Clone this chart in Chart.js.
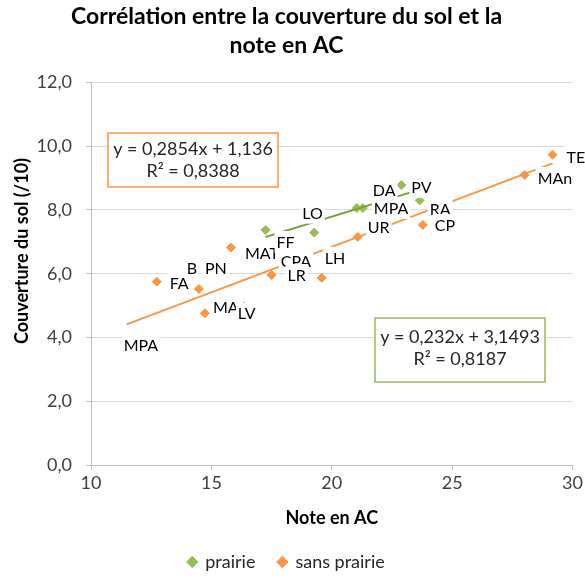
<!DOCTYPE html>
<html lang="fr">
<head>
<meta charset="utf-8">
<title>Couverture du sol et note en AC</title>
<script src="https://cdn.jsdelivr.net/npm/chart.js@4.4.1/dist/chart.umd.min.js"></script>
<style>
  html, body { margin: 0; padding: 0; background: #fff; }
  #wrap { position: relative; width: 585px; height: 578px; }
</style>
</head>
<body>
<div id="wrap"><canvas id="scatter"></canvas></div>
<script>
// parcelles avec prairie
const prairieNames = ['FF', 'LO', 'DA', 'MPA', 'PV', 'RA'];
const prairieNote = [17.25, 19.27, 21.04, 21.29, 22.89, 23.65];
const prairieCouv = [7.37, 7.29, 8.06, 8.06, 8.78, 8.30];

// parcelles sans prairie
const sansNames = ['MPA', 'FA', 'B', 'PN', 'MAA', 'LV', 'MAT', 'LR', 'CPA', 'LH', 'UR', 'CP', 'MAn', 'TE'];
const sansNote = [11.48, 12.73, 14.48, 14.19, 14.73, 15.56, 15.81, 17.50, 18.09, 19.58, 21.08, 23.78, 28.01, 29.17];
const sansCouv = [3.76, 5.75, 5.52, 6.18, 4.76, 4.76, 6.82, 5.96, 6.37, 5.87, 7.15, 7.53, 9.10, 9.73];

// tendances linéaires : pente, ordonnée à l'origine, R²
const prairieTrend = [0.232, 3.1493, 0.8187];
const sansTrend = [0.2854, 1.136, 0.8388];

const xTicks = [10, 15, 20, 25, 30];
const yTicks = [0, 2, 4, 6, 8, 10, 12];

// décalage des étiquettes en px par rapport au losange
const prairieLabelShift = [[11, 12], [-12, -20], [16, -18], [11, 0], [10, 2], [10, 8]];
const sansLabelShift = [[-3, 0], [13, 1], [-12, -21], [13, 0], [8, -6], [13, 0], [14, 5],
                        [16, 0], [-5, -1], [3, -20], [10, -10], [12, 0], [13, 3], [14, 2]];

const GREEN = '#9BBB59';
const GREEN_LINE = '#77A33C';
const ORANGE = '#F79646';
const FONT = 'Lato, "Open Sans", sans-serif';

const fr = v => String(v).replace('.', ',');
const toPoints = (xs, ys) => xs.map((x, i) => ({ x, y: ys[i] }));

function trendPoints(xs, trend) {
  const [a, b] = trend;
  const lo = Math.min(...xs), hi = Math.max(...xs);
  return [{ x: lo, y: a * lo + b }, { x: hi, y: a * hi + b }];
}

// étiquettes des parcelles, fond blanc, dessinées de gauche à droite
const pointLabels = {
  id: 'pointLabels',
  afterDatasetsDraw(chart) {
    const ctx = chart.ctx;
    const items = [];
    chart.data.datasets.forEach((ds, i) => {
      if (!ds.names) return;
      chart.getDatasetMeta(i).data.forEach((pt, j) => {
        const [dx, dy] = ds.labelShift[j];
        items.push({ text: ds.names[j], x: pt.x + dx, y: pt.y + dy });
      });
    });
    items.sort((a, b) => (a.x - b.x) || (a.y - b.y));
    ctx.save();
    ctx.font = '16px ' + FONT;
    ctx.textBaseline = 'middle';
    items.forEach(it => {
      const w = ctx.measureText(it.text).width;
      ctx.fillStyle = '#fff';
      ctx.fillRect(it.x - 2, it.y - 11, w + 4, 22);
      ctx.fillStyle = '#000';
      ctx.fillText(it.text, it.x, it.y + 1);
    });
    ctx.restore();
  }
};

// encadrés des équations de tendance
const trendBoxes = {
  id: 'trendBoxes',
  afterDatasetsDraw(chart, args, opts) {
    const ctx = chart.ctx;
    ctx.save();
    opts.boxes.forEach(b => {
      const [a, c, r2] = b.trend;
      const [cx, cy] = b.center;
      ctx.fillStyle = '#fff';
      ctx.fillRect(cx - b.w / 2, cy - b.h / 2, b.w, b.h);
      ctx.strokeStyle = b.color;
      ctx.lineWidth = 1.5;
      ctx.strokeRect(cx - b.w / 2, cy - b.h / 2, b.w, b.h);
      ctx.fillStyle = '#262626';
      ctx.font = '18px ' + FONT;
      ctx.textAlign = 'center';
      ctx.textBaseline = 'middle';
      ctx.fillText(`y = ${fr(a)}x + ${fr(c)}`, cx, cy + b.textShift - 11);
      ctx.fillText(`R² = ${fr(r2)}`, cx, cy + b.textShift + 11);
    });
    ctx.restore();
  }
};

// titre de l'axe vertical
const yTitle = {
  id: 'yTitle',
  afterDraw(chart, args, opts) {
    const ctx = chart.ctx;
    ctx.save();
    ctx.translate(opts.x, opts.y);
    ctx.rotate(-Math.PI / 2);
    ctx.font = 'bold 18px ' + FONT;
    ctx.fillStyle = '#000';
    ctx.textAlign = 'center';
    ctx.textBaseline = 'middle';
    ctx.fillText(opts.text, 0, 0);
    ctx.restore();
  }
};

new Chart(document.getElementById('scatter'), {
  type: 'scatter',
  data: {
    datasets: [
      {
        type: 'line',
        label: 'tendance sans prairie',
        data: trendPoints(sansNote, sansTrend),
        borderColor: ORANGE,
        borderWidth: 2,
        pointRadius: 0,
        fill: false,
        order: 0
      },
      {
        type: 'line',
        label: 'tendance prairie',
        data: trendPoints(prairieNote, prairieTrend),
        borderColor: GREEN_LINE,
        borderWidth: 2,
        pointRadius: 0,
        fill: false,
        order: 1
      },
      {
        label: 'prairie',
        data: toPoints(prairieNote, prairieCouv),
        names: prairieNames,
        labelShift: prairieLabelShift,
        pointStyle: 'rectRot',
        pointRadius: 4.5,
        backgroundColor: GREEN,
        borderColor: GREEN,
        borderWidth: 1,
        order: 2
      },
      {
        label: 'sans prairie',
        data: toPoints(sansNote, sansCouv),
        names: sansNames,
        labelShift: sansLabelShift,
        pointStyle: 'rectRot',
        pointRadius: 4.5,
        backgroundColor: ORANGE,
        borderColor: ORANGE,
        borderWidth: 1,
        order: 3
      }
    ]
  },
  options: {
    responsive: true,
    maintainAspectRatio: false,
    animation: false,
    layout: { padding: { left: 0, right: 12, top: 0, bottom: -3 } },
    plugins: {
      title: {
        display: true,
        text: ['Corrélation entre la couverture du sol et la', 'note en AC'],
        color: '#000',
        font: { family: FONT, size: 23, weight: 'bold', lineHeight: 1.27 },
        padding: { top: 2, bottom: 22 }
      },
      legend: {
        position: 'bottom',
        labels: {
          filter: item => !item.text.startsWith('tendance'),
          usePointStyle: true,
          pointStyle: 'rectRot',
          boxWidth: 8,
          boxHeight: 8,
          padding: 23,
          color: '#262626',
          font: { family: FONT, size: 18 }
        }
      },
      tooltip: { enabled: false },
      trendBoxes: {
        boxes: [
          { trend: sansTrend, color: ORANGE, center: [193, 160], w: 170, h: 54, textShift: 0 },
          { trend: prairieTrend, color: '#9BBB59', center: [460, 350], w: 170, h: 64, textShift: -1.5 }
        ]
      },
      yTitle: { text: 'Couverture du sol (/10)', x: 22, y: 251 }
    },
    scales: {
      x: {
        type: 'linear',
        min: xTicks[0],
        max: xTicks[xTicks.length - 1],
        afterBuildTicks: s => { s.ticks = xTicks.map(v => ({ value: v })); },
        afterFit: s => { s.height = 65; },
        grid: { drawOnChartArea: false, drawTicks: true, tickLength: 5, tickColor: '#BFBFBF' },
        border: { color: '#BFBFBF' },
        ticks: { color: '#404040', padding: 2, maxRotation: 0, font: { family: FONT, size: 18 } },
        title: {
          display: true,
          text: 'Note en AC',
          color: '#000',
          font: { family: FONT, size: 18, weight: 'bold' },
          padding: { top: 1, bottom: 1 }
        }
      },
      y: {
        type: 'linear',
        min: yTicks[0],
        max: yTicks[yTicks.length - 1],
        afterBuildTicks: s => { s.ticks = yTicks.map(v => ({ value: v })); },
        afterFit: s => { s.width = 91; },
        grid: { color: '#D9D9D9', tickLength: 5, tickColor: '#BFBFBF' },
        border: { color: '#BFBFBF' },
        ticks: {
          color: '#404040',
          padding: 14,
          font: { family: FONT, size: 18 },
          callback: v => v.toFixed(1).replace('.', ',')
        }
      }
    }
  },
  plugins: [trendBoxes, pointLabels, yTitle]
});
</script>
</body>
</html>
